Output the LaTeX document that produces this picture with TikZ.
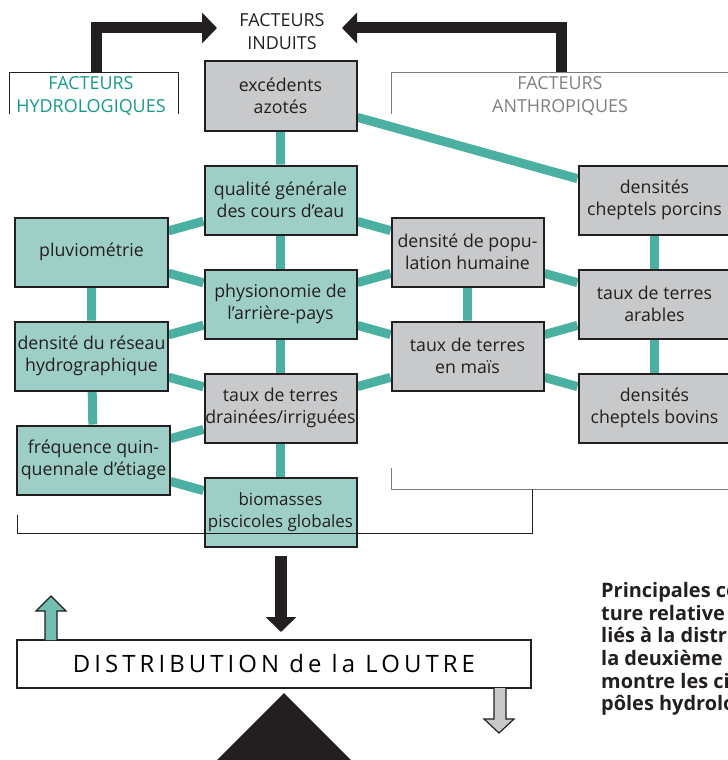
\documentclass[tikz,border=0pt]{standalone}
\usepackage{fontspec}
\setmainfont{Open Sans}
\usetikzlibrary{arrows.meta,backgrounds}
\definecolor{vertfond}{HTML}{9ECFC7}
\definecolor{vertlien}{HTML}{4BB0A2}
\definecolor{vertfonce}{HTML}{17998A}
\definecolor{vertfleche}{HTML}{72BFB2}
\definecolor{grisfond}{HTML}{C8C9CB}
\definecolor{grisligne}{HTML}{7F7F7F}
\definecolor{noir}{HTML}{231F20}
\tikzset{
  boite/.style={draw=noir, line width=2bp, minimum width=152bp, minimum height=69bp,
    align=center, inner sep=0pt, text=noir,
    font=\fontsize{17.8}{22}\selectfont},
  hydro/.style={boite, fill=vertfond},
  anthro/.style={boite, fill=grisfond},
  lien/.style={vertlien, line width=9bp},
  titre/.style={align=center, font=\fontsize{18}{23}\selectfont},
  grosse/.style={noir, line width=11bp, -{Triangle[length=15bp, width=30bp]}},
}
\begin{document}
\begin{tikzpicture}[x=1bp, y=-1bp]
\useasboundingbox (0,0) rectangle (728,760);
\clip (0,0) rectangle (728,760);
% facteurs induits
\node[anthro] (exced) at (280.5,96) {excédents\\azotés};
% colonne centrale
\node[hydro] (qual) at (280.5,200) {qualité générale\\des cours d'eau};
\node[hydro] (phys) at (280.5,304) {physionomie de\\l'arrière-pays};
\node[anthro] (drain) at (280.5,408) {taux de terres\\drainées/irriguées};
\node[hydro, font=\fontsize{17}{22}\selectfont] (bio) at (280.5,512) {biomasses\\piscicoles globales};
% facteurs hydrologiques
\node[hydro] (pluv) at (91.5,252) {pluviométrie};
\node[hydro] (reseau) at (91.5,356) {densité du réseau\\hydrographique};
\node[hydro] (freq) at (93.5,460) {fréquence quin-\\quennale d'étiage};
% facteurs anthropiques
\node[anthro] (popul) at (467.5,252) {densité de popu-\\lation humaine};
\node[anthro] (mais) at (467.5,356) {taux de terres\\en maïs};
\node[anthro] (porc) at (654.5,200) {densités\\cheptels porcins};
\node[anthro] (arab) at (654.5,304) {taux de terres\\arables};
\node[anthro] (bov) at (654.5,408) {densités\\cheptels bovins};
\begin{pgfonlayer}{background}
\draw[lien] (exced) -- (qual) (exced) -- (porc);
\draw[lien] (qual) -- (phys) -- (drain) -- (bio);
\draw[lien] (pluv) -- (reseau) -- (freq);
\draw[lien] (qual) -- (pluv) (pluv) -- (phys) (phys) -- (reseau) (reseau) -- (drain)
  (drain) -- (freq) (freq) -- (bio);
\draw[lien] (qual) -- (popul) (phys) -- (popul) (phys) -- (mais) (drain) -- (mais);
\draw[lien] (popul) -- (mais) (popul) -- (arab) (mais) -- (arab) (mais) -- (bov);
\draw[lien] (porc) -- (arab) -- (bov);
\end{pgfonlayer}
% titres et accolades
\node[titre, text=noir] (induits) at (282,32) {FACTEURS\\INDUITS};
\node[titre, text=vertfonce] (t-hydro) at (91,96) {FACTEURS\\HYDROLOGIQUES};
\node[titre, text=grisligne] (t-anthro) at (560,96) {FACTEURS\\ANTHROPIQUES};
\draw[noir, line width=1bp] (9,114) -- (9,72) -- (178,72) -- (178,114);
\draw[grisligne, line width=1bp] (391,114) -- (391,72) -- (730,72);
\draw[grisligne, line width=1bp] (391,468) -- (391,489) -- (730,489);
\draw[noir, line width=1bp] (17,515) -- (17,533) -- (532,533) -- (532,489);
\coordinate (hydro-haut) at (96.5,72);
\coordinate (anthro-haut) at (561,72);
\coordinate (pointe-g) at (217,28);
\coordinate (pointe-d) at (342,28);
\draw[grosse] (hydro-haut) |- (pointe-g);
\draw[grosse] (anthro-haut) |- (pointe-d);
% loutre
\node[draw=noir, line width=1.5bp, fill=white, minimum width=514bp, minimum height=48bp,
  inner sep=0pt, font=\fontsize{24}{28}\selectfont\addfontfeature{LetterSpace=17}]
  (loutre) at (274,664) {DISTRIBUTION de la LOUTRE};
\coordinate (bio-bas) at (281,556);
\coordinate (loutre-haut) at (281,632);
\draw[grosse, line width=12bp] (bio-bas) -- (loutre-haut);
\draw[noir, line width=1.2bp, fill=vertfleche] (45,640) -- (45,611) -- (36,611) -- (51,596)
  -- (66,611) -- (57,611) -- (57,640);
\draw[noir, line width=1.2bp, fill=grisfond] (494,688) -- (494,719) -- (484,719) -- (499,733)
  -- (514,719) -- (506,719) -- (506,688);
\fill[noir] (284,693) -- (384,793) -- (184,793) -- cycle;
% legende
\node[anchor=north west, align=left, inner sep=0pt, text=noir,
  font=\fontsize{20}{22.8}\selectfont\bfseries] (legende) at (601,582)
  {Principales co\\ture relative\\liés à la distr\\la deuxième\\montre les ci\\pôles hydrolo};
\end{tikzpicture}
\end{document}
